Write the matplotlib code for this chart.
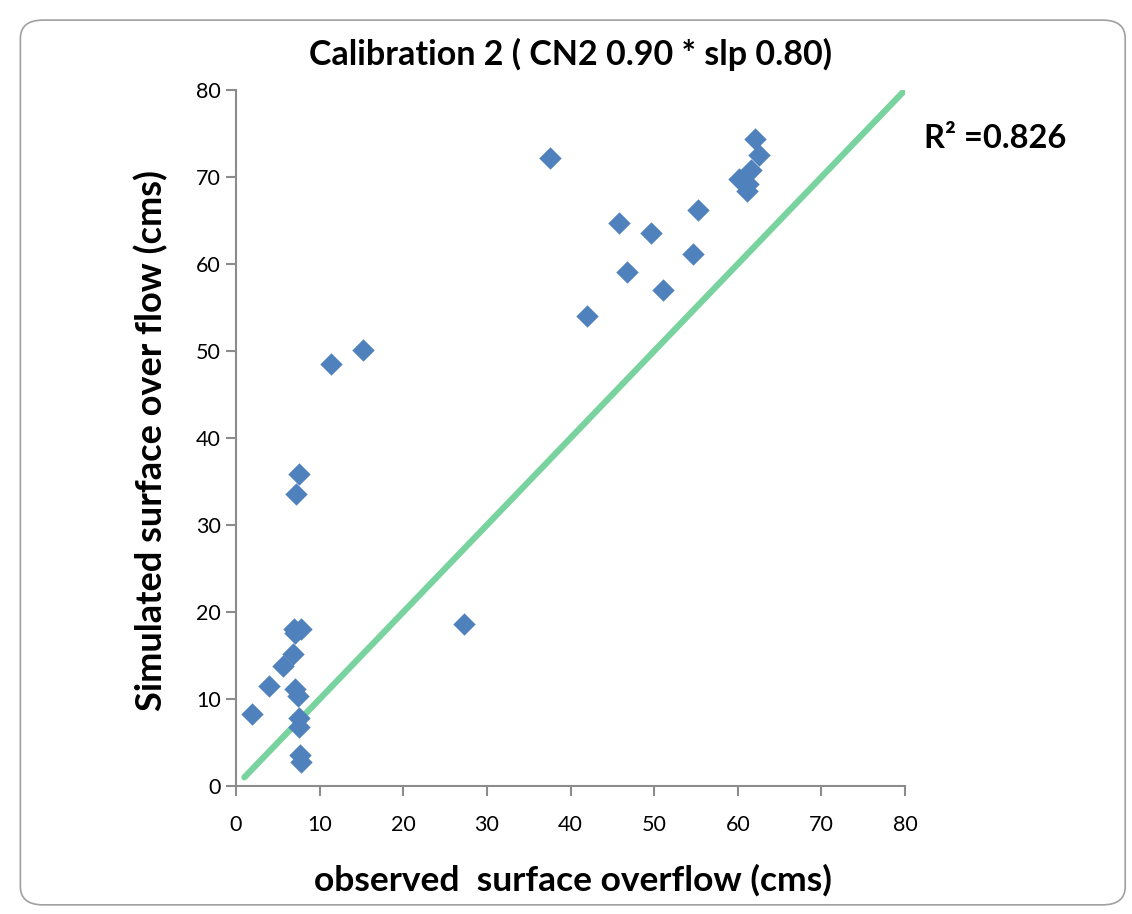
import matplotlib.pyplot as plt
from matplotlib.patches import FancyBboxPatch

plt.rcParams['font.family'] = ['Lato', 'DejaVu Sans']

# observed vs simulated surface overflow (cms)
observed = [37.6, 62.0, 62.5, 61.6, 60.2, 61.2, 61.1, 55.3, 45.8, 49.6,
            54.6, 46.8, 51.0, 42.0, 15.2, 11.3, 7.5, 7.2, 27.3, 6.9,
            7.8, 7.0, 6.8, 5.6, 3.9, 7.0, 7.4, 1.95, 7.5, 7.5, 7.6, 7.8]
simulated = [72.2, 74.4, 72.5, 70.8, 69.8, 69.2, 68.4, 66.2, 64.7, 63.6,
             61.1, 59.1, 57.0, 54.0, 50.1, 48.5, 35.9, 33.6, 18.6, 18.0,
             18.0, 17.6, 15.2, 13.8, 11.5, 11.1, 10.3, 8.3, 7.8, 6.8, 3.6, 2.8]

# 1:1 line
line_x = [1, 80]
line_y = [1, 80]

ticks = list(range(0, 81, 10))

fig = plt.figure(figsize=(11.32, 9.14), dpi=100)

# chart frame with rounded corners
frame = FancyBboxPatch((0.018, 0.01), 0.976, 0.968, transform=fig.transFigure,
                       boxstyle='round,pad=0,rounding_size=0.02',
                       facecolor='white', edgecolor='#a0a0a0', linewidth=1.2, zorder=-5)
fig.patches.append(frame)

ax = fig.add_axes([0.2085, 0.140, 0.591, 0.7615])
ax.plot(line_x, line_y, color='#79d39e', linewidth=4.5, solid_capstyle='round', zorder=2)
ax.scatter(observed, simulated, marker='D', s=130, color='#4f81bd', linewidths=0, zorder=3)

ax.set_xlim(0, 80)
ax.set_ylim(0, 80)
ax.set_xticks(ticks)
ax.set_yticks(ticks)
ax.tick_params(direction='out', length=7, width=1.5, color='#8c8c8c', labelsize=15.5, pad=14)
ax.tick_params(axis='y', pad=4)
for s in ['top', 'right']:
    ax.spines[s].set_visible(False)
for s in ['left', 'bottom']:
    ax.spines[s].set_color('#8c8c8c')
    ax.spines[s].set_linewidth(1.5)
ax.patch.set_alpha(0)

fig.text(0.504, 0.940, 'Calibration 2 ( CN2 0.90 * slp 0.80)', ha='center', va='center',
         fontsize=24.5, fontweight='bold')
fig.text(0.506, 0.037, 'observed  surface overflow (cms)', ha='center', va='center',
         fontsize=25.5, fontweight='bold')
fig.text(0.133, 0.518, 'Simulated surface over flow (cms)', ha='center', va='center',
         rotation=90, fontsize=26, fontweight='bold')
fig.text(0.816, 0.849, 'R² =0.826', ha='left', va='center', fontsize=23.5, fontweight='bold')

fig.savefig('out.png', dpi=100)
